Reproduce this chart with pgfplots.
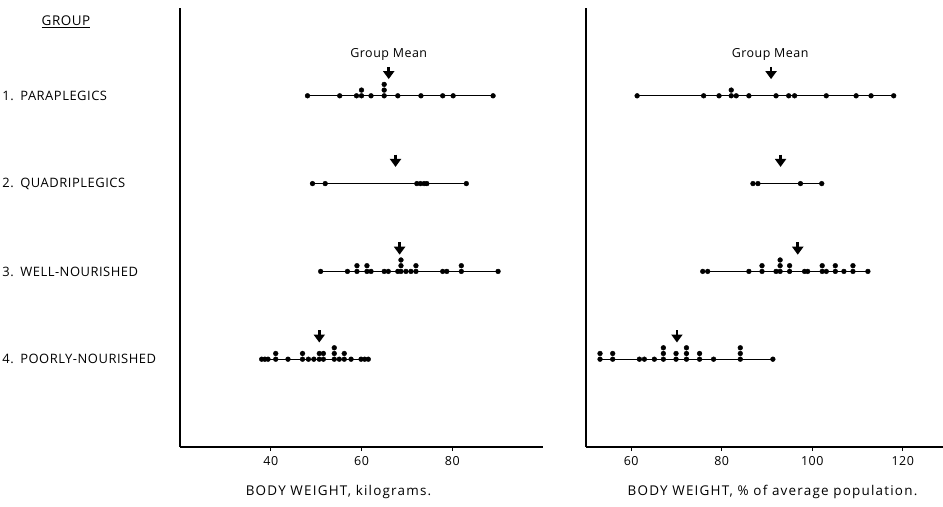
\documentclass[border=0pt]{standalone}
\usepackage{fontspec}
\setmainfont{Open Sans}[LetterSpace=4]
\usepackage{pgfplots}
\pgfplotsset{compat=1.18}
\usetikzlibrary{arrows.meta}
\begin{document}
\begin{tikzpicture}
\useasboundingbox (0,0) rectangle (943bp,507bp);
\pgfplotsset{
 dotax/.style={scale only axis, ymin=0, ymax=5,
   axis x line*=bottom, axis y line*=left,
   axis line style={-, line width=1.6bp, black},
   ytick=\empty, tick align=outside, major tick length=4bp,
   hide obscured x ticks=false,
   xtick style={line width=1.2bp, black},
   xticklabel style={font=\fontsize{12.5}{14}\selectfont, yshift=-2bp},
   /pgf/number format/assume math mode=true, clip=false,
   xlabel style={font=\fontsize{13.5}{15}\selectfont\addfontfeatures{LetterSpace=9}, yshift=-13bp}},
 row/.style={black, line width=1.2bp},
 dots/.style={only marks, mark=*, mark size=2.4bp, black},
 marr/.style={black, line width=2.8bp, -{Triangle[width=11bp,length=8bp]}, quiver={u=0,v=-0.14}},
}
\begin{axis}[dotax, at={(180bp,60bp)}, anchor=south west, width=363bp, height=439bp,
  xmin=20, xmax=100, xtick={40,60,80}, xlabel={BODY WEIGHT, kilograms.},
  xlabel style={xshift=-23bp},
  ytick={1,2,3,4}, ytick style={draw=none},
  yticklabels={4. POORLY-NOURISHED, 3. WELL-NOURISHED, 2. QUADRIPLEGICS, 1. PARAPLEGICS},
  yticklabel style={font=\fontsize{13}{15}\selectfont, text width=170bp, align=left}]
% row 1
\addplot[row] coordinates {(48.1,4) (89.0,4)};
\addplot[dots] coordinates {(48.1,4) (55.2,4) (58.9,4) (60.0,4) (60.0,4.065) (62.1,4) (65.0,4) (65.0,4.065) (65.0,4.13) (68.0,4) (73.1,4) (77.9,4) (80.2,4) (89.0,4)};
\addplot[marr] coordinates {(66.0,4.33)};
\node[font=\fontsize{12.5}{14}\selectfont] at (axis cs:66,4.47) {Group Mean};
% row 2
\addplot[row] coordinates {(49.2,3) (83.1,3)};
\addplot[dots] coordinates {(49.2,3) (52.0,3) (72.2,3) (73.0,3) (73.8,3) (74.4,3) (83.1,3)};
\addplot[marr] coordinates {(67.5,3.33)};
% row 3
\addplot[row] coordinates {(51.0,2) (90.1,2)};
\addplot[dots] coordinates {(51.0,2) (56.9,2) (59.0,2) (59.0,2.065) (61.2,2) (61.2,2.065) (62.1,2) (65.0,2) (65.9,2) (68.0,2) (68.7,2) (68.7,2.065) (68.7,2.13) (69.8,2) (70.9,2) (72.0,2) (72.0,2.065) (77.9,2) (78.8,2) (82.0,2) (82.0,2.065) (90.1,2)};
\addplot[marr] coordinates {(68.4,2.33)};
% row 4
\addplot[row] coordinates {(38.0,1) (61.5,1)};
\addplot[dots] coordinates {(38.0,1) (38.7,1) (39.4,1) (41.1,1) (41.1,1.065) (43.8,1) (47.0,1) (47.0,1.065) (48.3,1) (49.5,1) (50.7,1) (50.7,1.065) (51.6,1) (51.6,1.065) (54.0,1) (54.0,1.065) (54.0,1.13) (55.1,1) (56.2,1) (56.2,1.065) (57.7,1) (59.9,1) (60.7,1) (61.5,1)};
\addplot[marr] coordinates {(50.7,1.33)};
\end{axis}
\begin{axis}[dotax, at={(586bp,60bp)}, anchor=south west, width=357bp, height=439bp,
  xmin=50, xmax=128.9, xtick={60,80,100,120}, xlabel={BODY WEIGHT, \% of average population.},
  xlabel style={xshift=8bp}]
% row 1
\addplot[row] coordinates {(61.3,4) (118.0,4)};
\addplot[dots] coordinates {(61.3,4) (76.0,4) (79.4,4) (82.1,4) (82.1,4.065) (83.2,4) (86.0,4) (92.0,4) (94.8,4) (96.1,4) (103.1,4) (109.7,4) (113.0,4) (118.0,4)};
\addplot[marr] coordinates {(90.9,4.33)};
\node[font=\fontsize{12.5}{14}\selectfont] at (axis cs:90.7,4.47) {Group Mean};
% row 2
\addplot[row] coordinates {(86.9,3) (102.1,3)};
\addplot[dots] coordinates {(86.9,3) (88.0,3) (97.4,3) (102.1,3)};
\addplot[marr] coordinates {(93.0,3.33)};
% row 3
\addplot[row] coordinates {(75.8,2) (112.3,2)};
\addplot[dots] coordinates {(75.8,2) (76.9,2) (86.0,2) (88.9,2) (88.9,2.065) (92.0,2) (92.9,2) (92.9,2.065) (92.9,2.13) (95.0,2) (95.0,2.065) (98.3,2) (99.0,2) (102.2,2) (102.2,2.065) (103.1,2) (105.1,2) (105.1,2.065) (107.0,2) (109.0,2) (109.0,2.065) (112.3,2)};
\addplot[marr] coordinates {(96.8,2.33)};
% row 4
\addplot[row] coordinates {(53.1,1) (91.3,1)};
\addplot[dots] coordinates {(53.1,1) (53.1,1.065) (55.9,1) (55.9,1.065) (61.8,1) (62.9,1) (65.1,1) (67.1,1) (67.1,1.065) (67.1,1.13) (69.9,1) (69.9,1.065) (72.2,1) (72.2,1.065) (72.2,1.13) (75.1,1) (75.1,1.065) (78.2,1) (84.1,1) (84.1,1.065) (84.1,1.13) (91.3,1)};
\addplot[marr] coordinates {(70.1,1.33)};
\end{axis}
\node[font=\fontsize{13.5}{15}\selectfont] at (66bp,485bp) {\underline{GROUP}};
\end{tikzpicture}
\end{document}
